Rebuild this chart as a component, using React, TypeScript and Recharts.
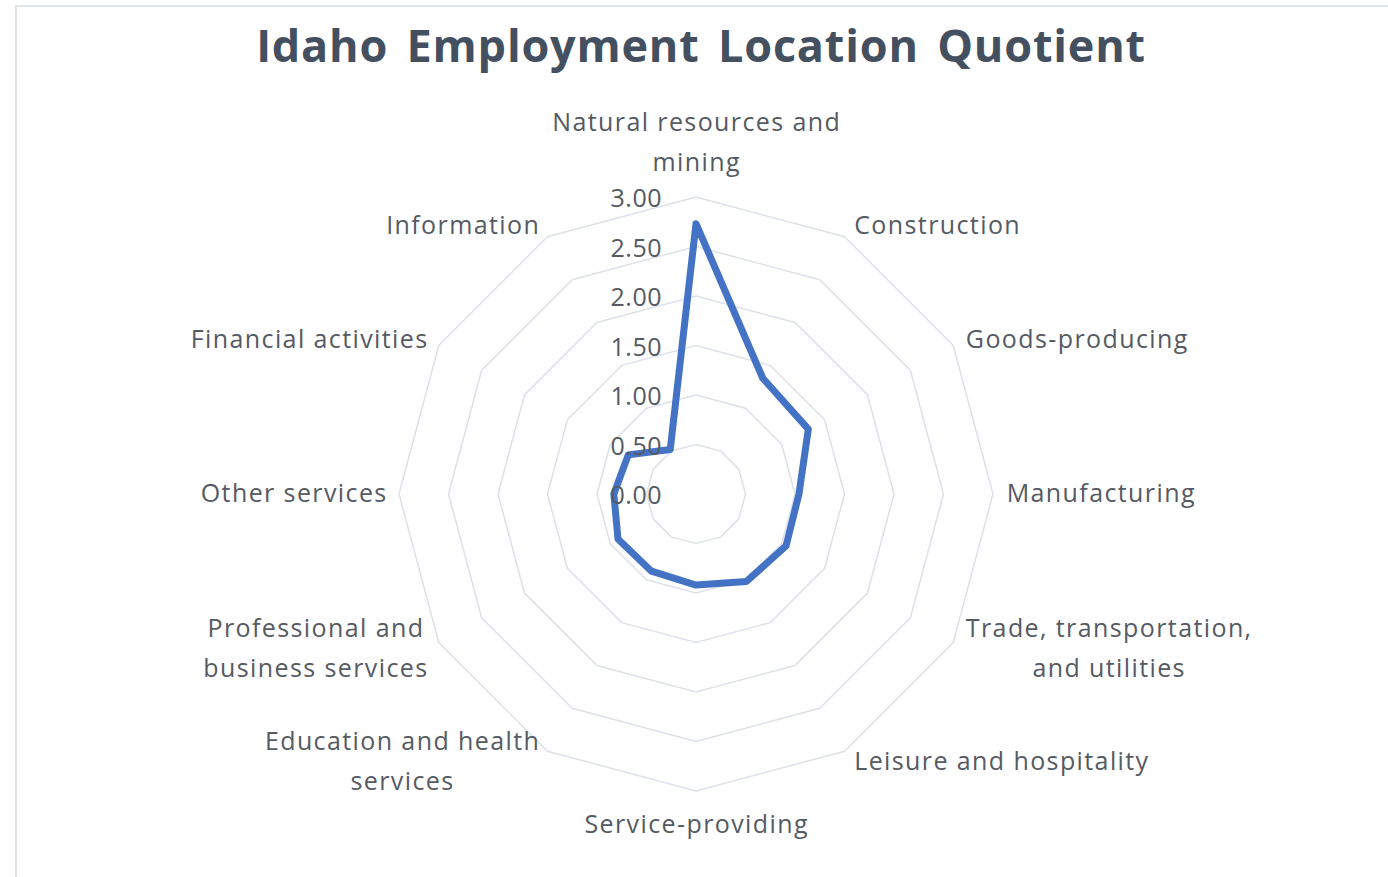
import React from "react";
import { RadarChart, Radar, PolarGrid, PolarAngleAxis, PolarRadiusAxis } from "recharts";

const categories = [
  "Natural resources and\nmining",
  "Construction",
  "Goods-producing",
  "Manufacturing",
  "Trade, transportation,\nand utilities",
  "Leisure and hospitality",
  "Service-providing",
  "Education and health\nservices",
  "Professional and\nbusiness services",
  "Other services",
  "Financial activities",
  "Information",
];
const quotients = [2.73, 1.35, 1.31, 1.04, 1.05, 1.02, 0.92, 0.9, 0.91, 0.83, 0.79, 0.52];
const radiusTicks = [0, 0.5, 1, 1.5, 2, 2.5, 3];
const title = "Idaho Employment Location Quotient";

const data = categories.map((c, i) => ({ category: c, value: quotients[i] }));

const FONT = "'Open Sans', 'Liberation Sans', sans-serif";
const LABEL_SIZE = 25;
const LETTER_SP = 1.4;
const LINE_H = 40;
const TEXT_COLOR = "#555a63";

let ctx: CanvasRenderingContext2D | null = null;
function measure(s: string): number {
  if (!ctx) {
    const c = document.createElement("canvas");
    ctx = c.getContext("2d");
  }
  if (!ctx) return s.length * LABEL_SIZE * 0.55;
  ctx.font = `${LABEL_SIZE}px 'Open Sans'`;
  return ctx.measureText(s).width + LETTER_SP * s.length;
}

const CX = 696;
const CY = 494;

function AngleTick(props: any) {
  const { x, y, payload } = props;
  const lines: string[] = String(payload.value).split("\n");
  const widths = lines.map(measure);
  const boxW = Math.max(...widths);
  const dx = x - CX;
  const dy = y - CY;
  const len = Math.sqrt(dx * dx + dy * dy) || 1;
  const cos = dx / len;
  const sin = -dy / len;
  let left: number;
  if (cos > 0.05) left = x + 5;
  else if (cos < -0.05) left = x - 4 - boxW;
  else left = x - boxW / 2;
  const h = lines.length * LINE_H;
  let top: number;
  if (sin > 0.95) top = y - 8 - h;
  else if (sin < -0.95) top = y + 4;
  else top = y - h / 2 - 4 * sin - 2;
  const mid = left + boxW / 2;
  return (
    <g>
      {lines.map((ln, i) => (
        <text
          key={i}
          x={mid + LETTER_SP / 2}
          y={top + LINE_H * i + LINE_H / 2}
          textAnchor="middle"
          dominantBaseline="central"
          fontFamily={FONT}
          fontSize={LABEL_SIZE}
          letterSpacing={LETTER_SP}
          fill={TEXT_COLOR}
        >
          {ln}
        </text>
      ))}
    </g>
  );
}

function RadiusTick(props: any) {
  const { x, y, payload } = props;
  return (
    <text
      x={x - 34}
      y={y}
      textAnchor="end"
      dominantBaseline="central"
      fontFamily={FONT}
      fontSize={LABEL_SIZE}
      letterSpacing={0.5}
      fill={TEXT_COLOR}
    >
      {Number(payload.value).toFixed(2)}
    </text>
  );
}

export default function App() {
  return (
    <div style={{ position: "absolute", left: 0, top: 0, width: 1388, height: 877, background: "#fff", overflow: "hidden" }}>
      <div
        style={{
          position: "absolute",
          left: 15,
          top: 5,
          width: 1400,
          height: 900,
          borderTop: "2px solid #dfe4ec",
          borderLeft: "2px solid #dfe4ec",
        }}
      />
      <div
        style={{
          position: "absolute",
          left: 0,
          width: 1402,
          top: 14,
          textAlign: "center",
          fontFamily: FONT,
          fontWeight: 700,
          fontSize: 45,
          letterSpacing: 0.8,
          color: "#44505f",
          wordSpacing: 6,
        }}
      >
        {title}
      </div>
      <div style={{ position: "absolute", left: 0, top: 0 }}>
        <RadarChart width={1388} height={877} data={data} cx={CX} cy={CY} outerRadius={297} startAngle={90} endAngle={-270}>
          <PolarGrid gridType="polygon" radialLines={false} stroke="#dde1ea" strokeWidth={1.5} />
          <PolarAngleAxis dataKey="category" tick={<AngleTick />} tickLine={false} axisLine={false} />
          <PolarRadiusAxis
            angle={90}
            domain={[0, 3]}
            ticks={radiusTicks as any}
            tickCount={7}
            tick={<RadiusTick />}
            axisLine={false}
            tickLine={false}
          />
          <Radar
            dataKey="value"
            stroke="#4472c4"
            strokeWidth={7}
            fill="none"
            fillOpacity={0}
            strokeLinejoin="round"
            isAnimationActive={false}
            dot={false}
          />
        </RadarChart>
      </div>
    </div>
  );
}
